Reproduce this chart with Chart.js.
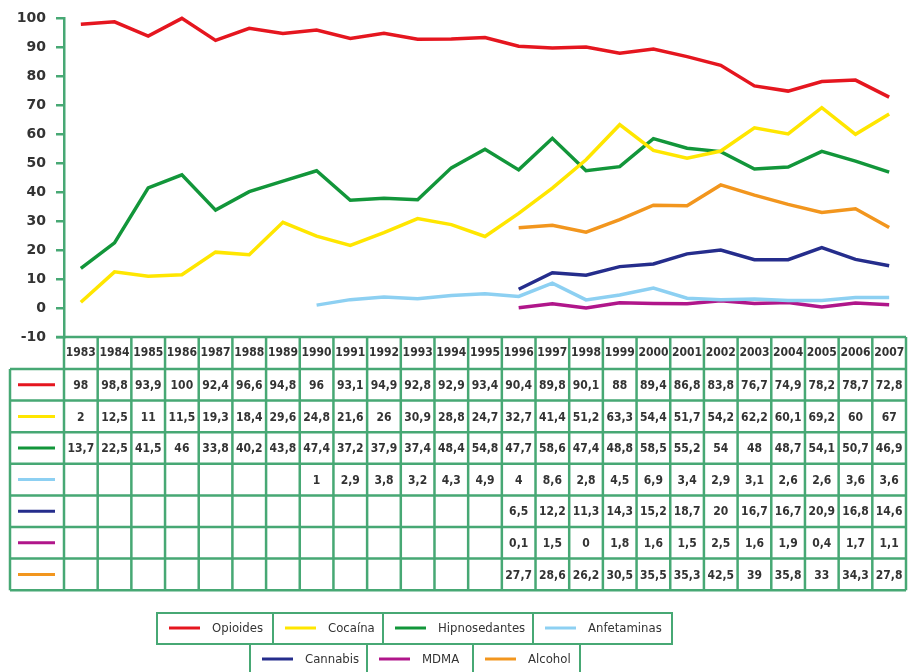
<!DOCTYPE html>
<html lang="es">
<head>
  <meta charset="UTF-8" />
  <title>Consumo por sustancia 1983-2007</title>
  <style>
    body { margin: 0; background: #fff; }
    #wrap { width: 908px; height: 672px; }
  </style>
</head>
<body>
  <div id="wrap"><canvas id="chart" width="908" height="672"></canvas></div>

  <script src="https://cdn.jsdelivr.net/npm/chart.js"></script>
  <script>
    const years = ["1983","1984","1985","1986","1987","1988","1989","1990","1991","1992","1993","1994","1995",
                   "1996","1997","1998","1999","2000","2001","2002","2003","2004","2005","2006","2007"];

    const opioides = [98, 98.8, 93.9, 100, 92.4, 96.6, 94.8, 96, 93.1, 94.9, 92.8, 92.9, 93.4,
                      90.4, 89.8, 90.1, 88, 89.4, 86.8, 83.8, 76.7, 74.9, 78.2, 78.7, 72.8];
    const cocaina = [2, 12.5, 11, 11.5, 19.3, 18.4, 29.6, 24.8, 21.6, 26, 30.9, 28.8, 24.7,
                     32.7, 41.4, 51.2, 63.3, 54.4, 51.7, 54.2, 62.2, 60.1, 69.2, 60, 67];
    const hipnosedantes = [13.7, 22.5, 41.5, 46, 33.8, 40.2, 43.8, 47.4, 37.2, 37.9, 37.4, 48.4, 54.8,
                           47.7, 58.6, 47.4, 48.8, 58.5, 55.2, 54, 48, 48.7, 54.1, 50.7, 46.9];
    const anfetaminas = [null, null, null, null, null, null, null, 1, 2.9, 3.8, 3.2, 4.3, 4.9,
                         4, 8.6, 2.8, 4.5, 6.9, 3.4, 2.9, 3.1, 2.6, 2.6, 3.6, 3.6];
    const cannabis = [null, null, null, null, null, null, null, null, null, null, null, null, null,
                      6.5, 12.2, 11.3, 14.3, 15.2, 18.7, 20, 16.7, 16.7, 20.9, 16.8, 14.6];
    const mdma = [null, null, null, null, null, null, null, null, null, null, null, null, null,
                  0.1, 1.5, 0, 1.8, 1.6, 1.5, 2.5, 1.6, 1.9, 0.4, 1.7, 1.1];
    const alcohol = [null, null, null, null, null, null, null, null, null, null, null, null, null,
                     27.7, 28.6, 26.2, 30.5, 35.5, 35.3, 42.5, 39, 35.8, 33, 34.3, 27.8];

    const yTicks = [-10, 0, 10, 20, 30, 40, 50, 60, 70, 80, 90, 100];

    const GRID = "#47a874";
    const TEXT = "#333";
    const tableFont = 'bold 12px "DejaVu Sans Condensed", "Liberation Sans Narrow", "Liberation Sans", sans-serif';
    const legendFont = '13px "DejaVu Sans Condensed", "Liberation Sans", sans-serif';

    const series = [
      { label: "Opioides", data: opioides, color: "#e5161f" },
      { label: "Cocaína", data: cocaina, color: "#ffe600" },
      { label: "Hipnosedantes", data: hipnosedantes, color: "#12963a" },
      { label: "Anfetaminas", data: anfetaminas, color: "#8dd0f2" },
      { label: "Cannabis", data: cannabis, color: "#252d8c" },
      { label: "MDMA", data: mdma, color: "#b0168a" },
      { label: "Alcohol", data: alcohol, color: "#f2961e" }
    ];

    const fmt = v => String(v).replace(".", ",");

    // data table under the plot, columns follow the x scale
    const tablePlugin = {
      id: "dataTable",
      afterDraw(chart) {
        const ctx = chart.ctx;
        const xs = chart.scales.x;
        const ys = chart.scales.y;
        const colW = xs.getPixelForValue(1) - xs.getPixelForValue(0);
        const left = xs.getPixelForValue(0) - colW / 2;
        const right = xs.getPixelForValue(years.length - 1) + colW / 2;
        const headTop = ys.getPixelForValue(-10);
        const rowTop = headTop + 32;
        const rowH = 31.6;
        const firstX = 10;
        const bottom = rowTop + rowH * series.length;

        ctx.save();
        ctx.strokeStyle = GRID;
        ctx.lineWidth = 2.5;
        ctx.beginPath();
        // horizontal lines
        ctx.moveTo(56, headTop); ctx.lineTo(right, headTop);
        for (let r = 0; r <= series.length; r++) {
          const y = rowTop + r * rowH;
          ctx.moveTo(firstX, y); ctx.lineTo(right, y);
        }
        // vertical lines
        for (let i = 0; i <= years.length; i++) {
          const x = left + i * colW;
          ctx.moveTo(x, headTop); ctx.lineTo(x, bottom);
        }
        ctx.moveTo(firstX, rowTop); ctx.lineTo(firstX, bottom);
        ctx.stroke();

        ctx.fillStyle = TEXT;
        ctx.font = tableFont;
        ctx.textAlign = "center";
        ctx.textBaseline = "middle";
        years.forEach((yr, i) => {
          ctx.fillText(yr, xs.getPixelForValue(i), headTop + 16, colW - 2);
        });
        series.forEach((s, r) => {
          const cy = rowTop + r * rowH + rowH / 2;
          ctx.strokeStyle = s.color;
          ctx.lineWidth = 3;
          ctx.beginPath();
          ctx.moveTo(18, cy); ctx.lineTo(55, cy);
          ctx.stroke();
          ctx.fillStyle = TEXT;
          s.data.forEach((v, i) => {
            if (v === null) return;
            ctx.fillText(fmt(v), xs.getPixelForValue(i), cy + 1, colW - 3);
          });
        });
        ctx.restore();
      }
    };

    // boxed legend at the bottom
    const legendRows = [
      { top: 613, h: 31, cells: [[157, 273], [273, 383], [383, 533], [533, 672]], items: [0, 1, 2, 3] },
      { top: 644, h: 31, cells: [[250, 367], [367, 473], [473, 580]], items: [4, 5, 6] }
    ];
    const legendPlugin = {
      id: "boxLegend",
      afterDraw(chart) {
        const ctx = chart.ctx;
        ctx.save();
        legendRows.forEach(row => {
          ctx.strokeStyle = GRID;
          ctx.lineWidth = 2;
          row.cells.forEach(([a, b]) => ctx.strokeRect(a, row.top, b - a, row.h));
          row.cells.forEach(([a, b], k) => {
            const s = series[row.items[k]];
            const cy = row.top + 15;
            ctx.strokeStyle = s.color;
            ctx.lineWidth = 3;
            ctx.beginPath();
            ctx.moveTo(a + 12, cy); ctx.lineTo(a + 43, cy);
            ctx.stroke();
            ctx.fillStyle = TEXT;
            ctx.font = legendFont;
            ctx.textAlign = "left";
            ctx.textBaseline = "middle";
            ctx.fillText(s.label, a + 55, cy + 1);
          });
        });
        ctx.restore();
      }
    };

    new Chart(document.getElementById("chart"), {
      type: "line",
      data: {
        labels: years,
        datasets: series.map(s => ({
          label: s.label,
          data: s.data,
          borderColor: s.color,
          backgroundColor: s.color,
          borderWidth: 3.5,
          pointRadius: 0,
          tension: 0,
          spanGaps: false,
          clip: 6
        }))
      },
      options: {
        responsive: false,
        animation: false,
        events: [],
        layout: { padding: { top: 17, right: 2, bottom: 335, left: 0 } },
        plugins: { legend: { display: false }, tooltip: { enabled: false } },
        scales: {
          x: { type: "category", offset: true, display: false },
          y: {
            min: -10,
            max: 100,
            afterFit(scale) { scale.width = 64; },
            afterBuildTicks(scale) { scale.ticks = yTicks.map(v => ({ value: v })); },
            border: { display: true, color: GRID, width: 2.5 },
            grid: { drawOnChartArea: false, drawTicks: true, tickLength: 8, color: GRID, lineWidth: 2.5 },
            ticks: {
              padding: 10,
              color: TEXT,
              font: { family: "DejaVu Sans", size: 14, weight: "bold" }
            }
          }
        }
      },
      plugins: [tablePlugin, legendPlugin]
    });
  </script>
</body>
</html>
